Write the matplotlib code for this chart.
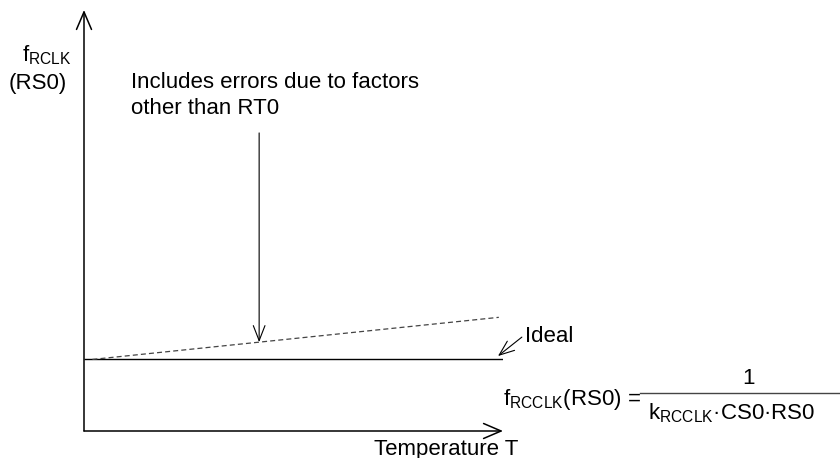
import matplotlib
matplotlib.use('Agg')
import matplotlib.pyplot as plt
from matplotlib.lines import Line2D

plt.rcParams['font.family'] = ['Liberation Sans', 'DejaVu Sans']
plt.rcParams['mathtext.fontset'] = 'custom'
plt.rcParams['mathtext.rm'] = 'Liberation Sans'
plt.rcParams['mathtext.it'] = 'Liberation Sans'

# normalised temperature axis and the two frequency curves
temp_ideal = [0.0, 1.0]
f_ideal = [0.17, 0.17]
temp_err = [0.02, 0.99]
f_err = [0.17, 0.27]

# where the "errors" pointer touches the dashed curve
t_note = 0.418
f_note = f_err[0] + (t_note - temp_err[0]) / (temp_err[1] - temp_err[0]) * (f_err[1] - f_err[0])

W, H = 840, 458
fig = plt.figure(figsize=(W / 100, H / 100), dpi=100)
fig.patch.set_facecolor('white')

ax = fig.add_axes([84 / W, 1 - 431 / H, (503 - 84) / W, (431 - 10) / H])
ax.set_xlim(0, 1)
ax.set_ylim(0, 1)
ax.axis('off')

head = '->, head_length=0.7, head_width=0.3'
# axes with open arrow heads
ax.annotate('', xy=(0, 1), xytext=(0, 0),
            arrowprops=dict(arrowstyle=head, lw=1.1, color='black', mutation_scale=18,
                            shrinkA=0, shrinkB=0))
ax.annotate('', xy=(1, 0), xytext=(0, 0),
            arrowprops=dict(arrowstyle=head, lw=1.1, color='black', mutation_scale=18,
                            shrinkA=0, shrinkB=0))

ax.plot(temp_ideal, f_ideal, color='black', lw=1.0, solid_capstyle='butt')
ax.plot(temp_err, f_err, color='#444444', lw=0.9, dashes=(4, 2.5))

pointer = dict(arrowstyle='->, head_length=0.9, head_width=0.35', lw=0.8,
               color='black', mutation_scale=12, shrinkA=0, shrinkB=0)
# pointer to the dashed curve
ax.annotate('', xy=(t_note, f_note), xytext=(t_note, 0.708), arrowprops=pointer)
# pointer to the ideal line
ax.annotate('', xy=(0.988, 0.178), xytext=(1.045, 0.223), arrowprops=pointer)
ax.text(1.052, 0.225, 'Ideal', fontsize=16, va='center', ha='left')

def px(x, y):
    return x / W, 1 - y / H

fig.text(*px(22, 55), r'f$_{\mathrm{RCLK}}$', fontsize=16, va='center', ha='left')
fig.text(*px(9, 84), '(RS0)', fontsize=16, va='center', ha='left')
fig.text(*px(131, 82), 'Includes errors due to factors', fontsize=16, va='center', ha='left')
fig.text(*px(131, 109), 'other than RT0', fontsize=16, va='center', ha='left')
fig.text(*px(446, 449), 'Temperature T', fontsize=16, va='center', ha='center')

# formula for the ideal frequency
fig.text(*px(503, 400), r'f$_{\mathrm{RCCLK}}$(RS0) =', fontsize=16, va='center', ha='left')
fig.text(*px(749, 378), '1', fontsize=16, va='center', ha='center')
fig.text(*px(648, 413), r'k$_{\mathrm{RCCLK}}$·CS0·RS0', fontsize=16, va='center', ha='left')
fig.add_artist(Line2D([640 / W, 1.0], [1 - 393 / H, 1 - 393 / H], transform=fig.transFigure,
                      color='#444444', lw=1.0))

fig.savefig('out.png', dpi=100, facecolor='white')
